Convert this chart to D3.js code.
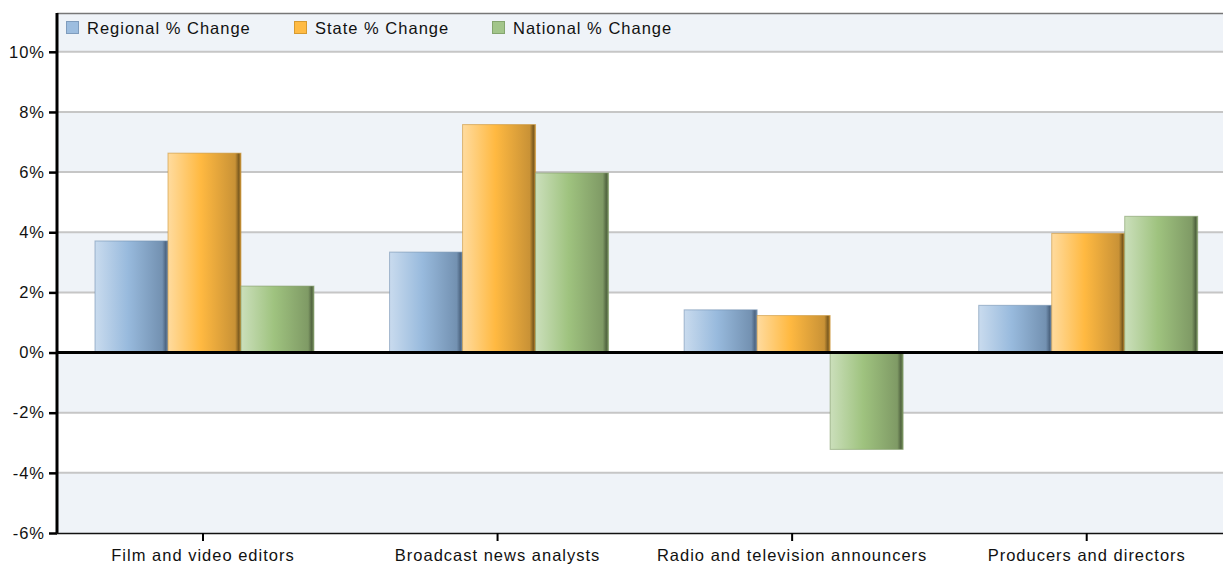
<!DOCTYPE html>
<html>
<head>
<meta charset="utf-8">
<script src="https://cdn.jsdelivr.net/npm/d3@7"></script>
<style>
  body { margin: 0; background: #fff; }
  svg text { font-family: "Liberation Sans", Arial, Helvetica, sans-serif; fill: #111; letter-spacing: 1px; }
</style>
</head>
<body>
<div id="chart"></div>
<script>
// data
const categories = ["Film and video editors", "Broadcast news analysts", "Radio and television announcers", "Producers and directors"];
const seriesNames = ["Regional % Change", "State % Change", "National % Change"];
const regional = [3.71, 3.34, 1.42, 1.57];
const state = [6.63, 7.58, 1.23, 3.96];
const national = [2.21, 5.97, -3.22, 4.53];
const yTicks = [-6, -4, -2, 0, 2, 4, 6, 8, 10];

// colours per series: light / base / dark / edge
const palette = [
    { swatch: "#9dbddf", border: "#7f9cbd", c: ["#c9dbee", "#98badd", "#7391b1", "#4e6682"] },
    { swatch: "#ffbb44", border: "#d69a30", c: ["#ffdb9e", "#ffb941", "#c99236", "#7b5a1f"] },
    { swatch: "#a2c58a", border: "#84a56e", c: ["#cbdfbb", "#9fc37f", "#7f9a65", "#526541"] }
];

const W = 1223, H = 566;
const margin = { top: 13, right: 0, bottom: 33, left: 57 };
const width = W - margin.left - margin.right;
const height = H - margin.top - margin.bottom;

const svg = d3.select("#chart").append("svg")
    .attr("width", W)
    .attr("height", H);

const defs = svg.append("defs");
palette.forEach((p, i) => {
    const g = defs.append("linearGradient")
        .attr("id", "grad" + i)
        .attr("x1", "0%").attr("x2", "100%").attr("y1", "0%").attr("y2", "0%");
    g.append("stop").attr("offset", "0%").attr("stop-color", p.c[0]);
    g.append("stop").attr("offset", "45%").attr("stop-color", p.c[1]);
    g.append("stop").attr("offset", "92%").attr("stop-color", p.c[2]);
    g.append("stop").attr("offset", "97%").attr("stop-color", p.c[3]);
    g.append("stop").attr("offset", "100%").attr("stop-color", p.c[2]);
});

const chart = svg.append("g").attr("transform", `translate(${margin.left},${margin.top})`);

// scales (the category band runs a bit past the right edge, as in the original)
const y = d3.scaleLinear().domain([-6, 11.29]).range([height, 0]);
const x0 = d3.scaleBand().domain(categories).range([-1.3, 1177]).paddingInner(0).paddingOuter(0);
const x1 = d3.scaleBand().domain(seriesNames).range([39.3, x0.bandwidth() - 36.3]).padding(0);

// alternating background bands
const bandEdges = d3.range(-6, 12, 2);
chart.selectAll(".band")
    .data(bandEdges)
    .enter().append("rect")
    .attr("x", 0)
    .attr("width", width)
    .attr("y", d => y(Math.min(d + 2, 11.29)))
    .attr("height", d => y(d) - y(Math.min(d + 2, 11.29)))
    .attr("fill", d => ((d + 6) / 2) % 2 === 0 ? "#eff3f8" : "#ffffff");

// grid lines
chart.selectAll(".grid")
    .data(yTicks.filter(t => t !== 0 && t !== -6))
    .enter().append("line")
    .attr("x1", 0).attr("x2", width)
    .attr("y1", d => y(d)).attr("y2", d => y(d))
    .attr("stroke", "#c6c6c6")
    .attr("stroke-width", 2);

// top frame line
chart.append("line")
    .attr("x1", 0).attr("x2", width)
    .attr("y1", 0.5).attr("y2", 0.5)
    .attr("stroke", "#777").attr("stroke-width", 1.5);

// bars
const values = [regional, state, national];
const barData = [];
categories.forEach((c, ci) => {
    seriesNames.forEach((s, si) => {
        barData.push({ cat: c, series: s, si: si, value: values[si][ci] });
    });
});

chart.selectAll(".bar")
    .data(barData)
    .enter().append("rect")
    .attr("class", "bar")
    .attr("x", d => x0(d.cat) + x1(d.series))
    .attr("width", x1.bandwidth())
    .attr("y", d => y(Math.max(0, d.value)))
    .attr("height", d => Math.abs(y(d.value) - y(0)))
    .attr("fill", d => `url(#grad${d.si})`)
    .attr("stroke", d => palette[d.si].c[2])
    .attr("stroke-opacity", 0.6)
    .attr("stroke-width", 1);

// zero line
chart.append("line")
    .attr("x1", 0).attr("x2", width)
    .attr("y1", y(0)).attr("y2", y(0))
    .attr("stroke", "#000").attr("stroke-width", 3);

// y axis
const yAxis = chart.append("g")
    .call(d3.axisLeft(y).tickValues(yTicks).tickFormat(d => d + "%").tickSize(8).tickSizeOuter(0));
yAxis.select(".domain").remove();
yAxis.selectAll(".tick line").attr("stroke", "#000").attr("stroke-width", 2.5);
yAxis.selectAll(".tick text").attr("x", -12).style("font-size", "16.5px").attr("fill", "#111");

chart.append("line")
    .attr("x1", 0).attr("x2", 0)
    .attr("y1", 0).attr("y2", height)
    .attr("stroke", "#000").attr("stroke-width", 3);

// x axis
const xAxis = chart.append("g")
    .attr("transform", `translate(0,${height})`)
    .call(d3.axisBottom(x0).tickSize(8).tickSizeOuter(0));
xAxis.select(".domain").attr("stroke", "#111").attr("stroke-width", 1.5);
xAxis.selectAll(".tick line").attr("stroke", "#000").attr("stroke-width", 2);
xAxis.selectAll(".tick text").attr("y", 16).style("font-size", "16.5px").attr("fill", "#111");

// legend
const legendX = [66, 294, 492];
const legend = svg.append("g");
seriesNames.forEach((s, i) => {
    const g = legend.append("g").attr("transform", `translate(${legendX[i]},21)`);
    g.append("rect")
        .attr("x", 0.5).attr("y", 0.5)
        .attr("width", 12).attr("height", 12)
        .attr("fill", palette[i].swatch)
        .attr("stroke", palette[i].border);
    g.append("text")
        .attr("x", 21).attr("y", 13)
        .style("font-size", "16.5px")
        .text(s);
});
</script>
</body>
</html>
